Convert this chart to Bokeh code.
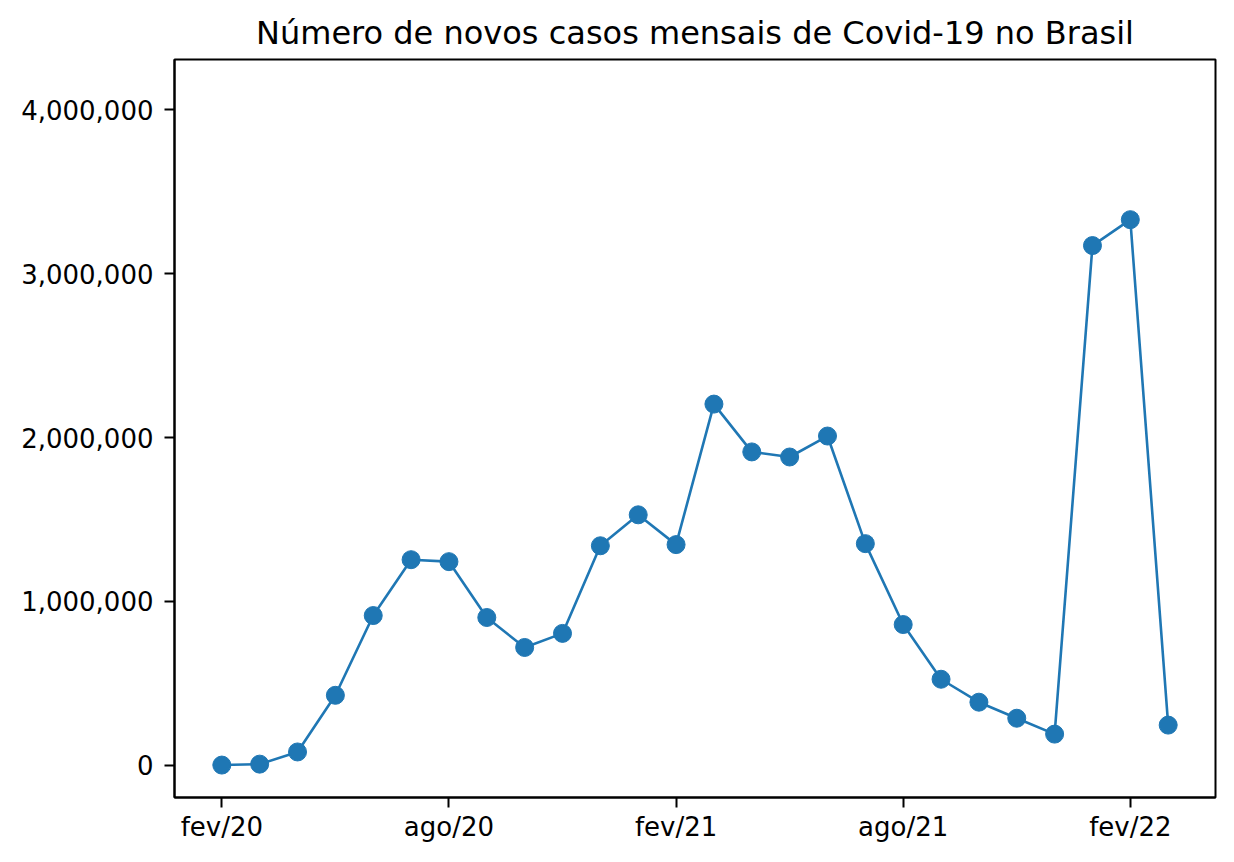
from bokeh.plotting import figure
from bokeh.models import FixedTicker, NumeralTickFormatter, Range1d, ColumnDataSource
from bokeh.embed import file_html
from bokeh.resources import INLINE

meses = ["fev/20", "mar/20", "abr/20", "mai/20", "jun/20", "jul/20", "ago/20", "set/20",
         "out/20", "nov/20", "dez/20", "jan/21", "fev/21", "mar/21", "abr/21", "mai/21",
         "jun/21", "jul/21", "ago/21", "set/21", "out/21", "nov/21", "dez/21", "jan/22",
         "fev/22", "mar/22"]
casos = [2, 5700, 80000, 426000, 913000, 1254000, 1242000, 901000, 718000, 804000,
         1339000, 1528000, 1346000, 2204000, 1912000, 1881000, 2009000, 1352000,
         858000, 524000, 384000, 286000, 189000, 3172000, 3330000, 244000]
tick_idx = [0, 6, 12, 18, 24]
y_ticks = [0, 1000000, 2000000, 3000000, 4000000]

idx = list(range(len(meses)))
src = ColumnDataSource(dict(x=idx, y=casos, mes=meses))

p = figure(width=1226, height=854, output_backend="svg", toolbar_location=None,
           x_range=Range1d(-1.25, 26.25), y_range=Range1d(-198000, 4308000),
           min_border_left=174, min_border_right=11, min_border_top=59, min_border_bottom=57,
           title="Número de novos casos mensais de Covid-19 no Brasil")

p.line("x", "y", source=src, line_color="#1f77b4", line_width=2.6)
p.scatter("x", "y", source=src, size=18, fill_color="#1f77b4", line_color="#1f77b4")

p.title.align = "center"
p.title.text_font = "DejaVu Sans"
p.title.text_font_size = "32px"
p.title.text_font_style = "normal"
p.title.text_color = "black"
p.title.standoff = 15

p.xgrid.visible = False
p.ygrid.visible = False
p.outline_line_color = "black"
p.outline_line_width = 2

p.xaxis.ticker = FixedTicker(ticks=tick_idx)
p.xaxis.major_label_overrides = {i: meses[i] for i in tick_idx}
p.yaxis.ticker = FixedTicker(ticks=y_ticks)
p.yaxis.formatter = NumeralTickFormatter(format="0,0")

for ax in (p.xaxis[0], p.yaxis[0]):
    ax.axis_line_color = "black"
    ax.axis_line_width = 2
    ax.major_tick_line_color = "black"
    ax.major_tick_line_width = 2
    ax.major_tick_out = 10
    ax.major_tick_in = 0
    ax.minor_tick_line_color = None
    ax.major_label_text_font = "DejaVu Sans"
    ax.major_label_text_font_size = "26px"
    ax.major_label_text_color = "black"

p.xaxis.major_label_standoff = 4
p.yaxis.major_label_standoff = 11

open("out.html", "w").write(file_html(p, INLINE))
